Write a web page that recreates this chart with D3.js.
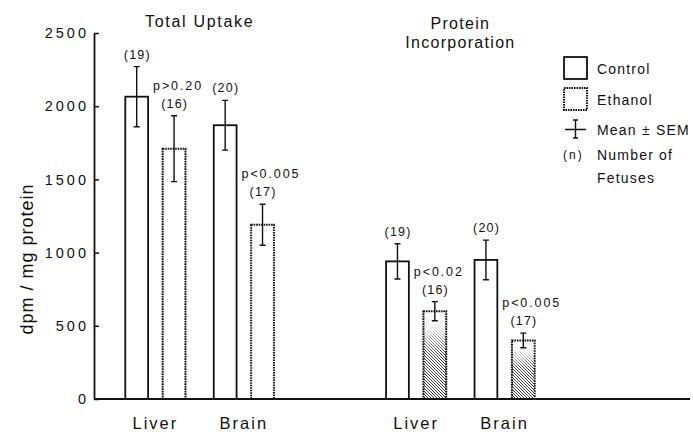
<!DOCTYPE html>
<html>
<head>
<meta charset="utf-8">
<script src="https://cdn.jsdelivr.net/npm/d3@7"></script>
<style>
  body { margin: 0; background: #fff; }
  text { font-family: "Liberation Sans", Arial, sans-serif; fill: #111; }
</style>
</head>
<body>
<div id="chart"></div>
<script>
// ---- data ----
const panels = ["Total Uptake", "Protein Incorporation"];
const tissues = ["Liver", "Brain"];
const groups = ["Control", "Ethanol"];

// order: Liver-Control, Liver-Ethanol, Brain-Control, Brain-Ethanol
const totalMean = [2065, 1710, 1870, 1190];
const totalSem = [205, 225, 170, 140];
const totalN = [19, 16, 20, 17];
const totalP = ["", "p>0.20", "", "p<0.005"];

const proteinMean = [940, 600, 950, 400];
const proteinSem = [120, 65, 135, 50];
const proteinN = [19, 16, 20, 17];
const proteinP = ["", "p<0.02", "", "p<0.005"];

const yTicks = [0, 500, 1000, 1500, 2000, 2500];

const legendItems = ["Control", "Ethanol", "Mean ± SEM", "Number of"];

// build rows
const panelData = [
  {mean: totalMean, sem: totalSem, n: totalN, p: totalP, hatch: false},
  {mean: proteinMean, sem: proteinSem, n: proteinN, p: proteinP, hatch: true}
];
const rows = [];
panels.forEach((panel, pi) => {
  tissues.forEach((tissue, ti) => {
    groups.forEach((group, gi) => {
      const k = ti * 2 + gi;
      const src = panelData[pi];
      rows.push({panel, tissue, group, mean: src.mean[k], sem: src.sem[k],
        n: src.n[k], p: src.p[k], hatch: src.hatch && group === "Ethanol"});
    });
  });
});

const width = 693, height = 432;
const axisX = 94, rightEdge = 690;

const svg = d3.select("#chart").append("svg")
  .attr("width", width)
  .attr("height", height);

const y = d3.scaleLinear().domain([0, 2500]).range([399, 33]);

const xPanel = d3.scaleBand().domain(panels).range([axisX, 566])
  .paddingInner(0.43).paddingOuter(0.12);
const xTissue = d3.scaleBand().domain(tissues).range([0, xPanel.bandwidth()])
  .paddingInner(0.32);
const xGroup = d3.scaleBand().domain(groups).range([0, xTissue.bandwidth()])
  .paddingInner(0.39);

const barX = d => xPanel(d.panel) + xTissue(d.tissue) + xGroup(d.group);
const barMid = d => barX(d) + xGroup.bandwidth() / 2;

// defs: hatch pattern and fade for the hatched bars
const defs = svg.append("defs");
const pat = defs.append("pattern")
  .attr("id", "hatch")
  .attr("patternUnits", "userSpaceOnUse")
  .attr("width", 3).attr("height", 3);
pat.append("path")
  .attr("d", "M0,0L3,3M-1,2L1,4M2,-1L4,1")
  .attr("stroke", "#222").attr("stroke-width", 0.9);

const fade = defs.append("linearGradient")
  .attr("id", "fade")
  .attr("x1", 0).attr("y1", 0).attr("x2", 0).attr("y2", 1);
fade.append("stop").attr("offset", "0").attr("stop-color", "#fff").attr("stop-opacity", 1);
fade.append("stop").attr("offset", "0.2").attr("stop-color", "#fff").attr("stop-opacity", 0.85);
fade.append("stop").attr("offset", "0.45").attr("stop-color", "#fff").attr("stop-opacity", 0.1);
fade.append("stop").attr("offset", "1").attr("stop-color", "#fff").attr("stop-opacity", 0);

// y axis
const yAxis = svg.append("g")
  .attr("transform", "translate(" + axisX + ",0)")
  .call(d3.axisLeft(y).tickValues(yTicks).tickFormat(d3.format("d"))
    .tickSize(-5).tickSizeOuter(0).tickPadding(5));
yAxis.select(".domain").attr("stroke", "#111").attr("stroke-width", 1.8);
yAxis.selectAll(".tick line").attr("stroke", "#111").attr("stroke-width", 1.5);
yAxis.selectAll(".tick text")
  .style("font-family", "'Liberation Sans', Arial, sans-serif")
  .style("font-size", "14.5px")
  .style("letter-spacing", "3px")
  .attr("fill", "#111");

// y axis label
svg.append("text")
  .attr("transform", "translate(33,259) rotate(-90)")
  .attr("text-anchor", "middle")
  .style("font-size", "18px")
  .style("letter-spacing", "1px")
  .text("dpm / mg protein");

// bars
const barG = svg.append("g").selectAll(".bar")
  .data(rows)
  .join("g")
  .attr("class", "bar");

barG.append("rect")
  .attr("x", d => barX(d))
  .attr("y", d => y(d.mean))
  .attr("width", xGroup.bandwidth())
  .attr("height", d => y(0) - y(d.mean))
  .attr("fill", d => d.hatch ? "url(#hatch)" : "#fff");

barG.filter(d => d.hatch).append("rect")
  .attr("x", d => barX(d))
  .attr("y", d => y(d.mean))
  .attr("width", xGroup.bandwidth())
  .attr("height", d => y(0) - y(d.mean))
  .attr("fill", "url(#fade)");

barG.append("rect")
  .attr("x", d => barX(d))
  .attr("y", d => y(d.mean))
  .attr("width", xGroup.bandwidth())
  .attr("height", d => y(0) - y(d.mean))
  .attr("fill", "none")
  .attr("stroke", "#111")
  .attr("stroke-width", d => d.group === "Ethanol" ? 2 : 1.8)
  .attr("stroke-dasharray", d => d.group === "Ethanol" ? "1.6,0.9" : null);

// error bars
const capW = 3;
barG.append("path")
  .attr("d", d => {
    const cx = barMid(d), t = y(d.mean + d.sem), b = y(d.mean - d.sem);
    return "M" + cx + "," + t + "V" + b +
      "M" + (cx - capW) + "," + t + "H" + (cx + capW) +
      "M" + (cx - capW) + "," + b + "H" + (cx + capW);
  })
  .attr("fill", "none")
  .attr("stroke", "#111")
  .attr("stroke-width", 1.4);

// n labels
barG.append("text")
  .attr("x", d => barMid(d) + 0.6)
  .attr("y", d => y(d.mean + d.sem) - 8)
  .attr("text-anchor", "middle")
  .style("font-size", "12.5px")
  .style("letter-spacing", "1.2px")
  .text(d => "(" + d.n + ")");

// p labels
barG.filter(d => d.p !== "").append("text")
  .attr("x", d => barMid(d) - 21)
  .attr("y", d => y(d.mean + d.sem) - 26)
  .style("font-size", "12.5px")
  .style("letter-spacing", "1.9px")
  .text(d => d.p);

// baseline
svg.append("line")
  .attr("x1", axisX).attr("x2", rightEdge)
  .attr("y1", y(0)).attr("y2", y(0))
  .attr("stroke", "#111").attr("stroke-width", 2);

// tissue labels
const tissueLabels = [];
panels.forEach(p => tissues.forEach(t => tissueLabels.push({panel: p, tissue: t})));
svg.append("g").selectAll("text")
  .data(tissueLabels)
  .join("text")
  .attr("x", d => xPanel(d.panel) + xTissue(d.tissue) + xTissue.bandwidth() / 2)
  .attr("y", 429)
  .attr("text-anchor", "middle")
  .style("font-size", "16.5px")
  .style("letter-spacing", "2px")
  .text(d => d.tissue);

// panel titles
svg.append("text")
  .attr("x", xPanel("Total Uptake") + xPanel.bandwidth() / 2)
  .attr("y", 27)
  .attr("text-anchor", "middle")
  .style("font-size", "16px")
  .style("letter-spacing", "1.7px")
  .text("Total Uptake");

const protTitle = svg.append("text")
  .attr("text-anchor", "middle")
  .style("font-size", "16px")
  .style("letter-spacing", "1.3px");
protTitle.append("tspan")
  .attr("x", xPanel("Protein Incorporation") + xPanel.bandwidth() / 2)
  .attr("y", 29).text("Protein");
protTitle.append("tspan")
  .attr("x", xPanel("Protein Incorporation") + xPanel.bandwidth() / 2)
  .attr("y", 48).text("Incorporation");

// legend
const lg = svg.append("g").attr("transform", "translate(563,0)");
const legTextX = 34;
const legStyle = sel => sel.style("font-size", "14px").style("letter-spacing", "1.2px");

lg.append("rect").attr("x", 1).attr("y", 57).attr("width", 23).attr("height", 22)
  .attr("fill", "#fff").attr("stroke", "#111").attr("stroke-width", 1.8);
lg.append("text").attr("x", legTextX).attr("y", 74).call(legStyle).text(legendItems[0]);

lg.append("rect").attr("x", 1).attr("y", 88).attr("width", 23).attr("height", 22)
  .attr("fill", "#fff").attr("stroke", "#111").attr("stroke-width", 2)
  .attr("stroke-dasharray", "1.6,0.9");
lg.append("text").attr("x", legTextX).attr("y", 105).call(legStyle).text(legendItems[1]);

lg.append("path")
  .attr("d", "M12.5,120V138M10,120H15M10,138H15M2,129.5H23")
  .attr("fill", "none").attr("stroke", "#111").attr("stroke-width", 1.4);
lg.append("text").attr("x", legTextX).attr("y", 135).call(legStyle).text(legendItems[2]);

lg.append("text").attr("x", 0).attr("y", 159)
  .style("font-size", "12px").style("letter-spacing", "2px").text("(n)");
const nText = lg.append("text").call(legStyle);
nText.append("tspan").attr("x", legTextX).attr("y", 160).text(legendItems[3]);
nText.append("tspan").attr("x", legTextX).attr("y", 183).text("Fetuses");
</script>
</body>
</html>
